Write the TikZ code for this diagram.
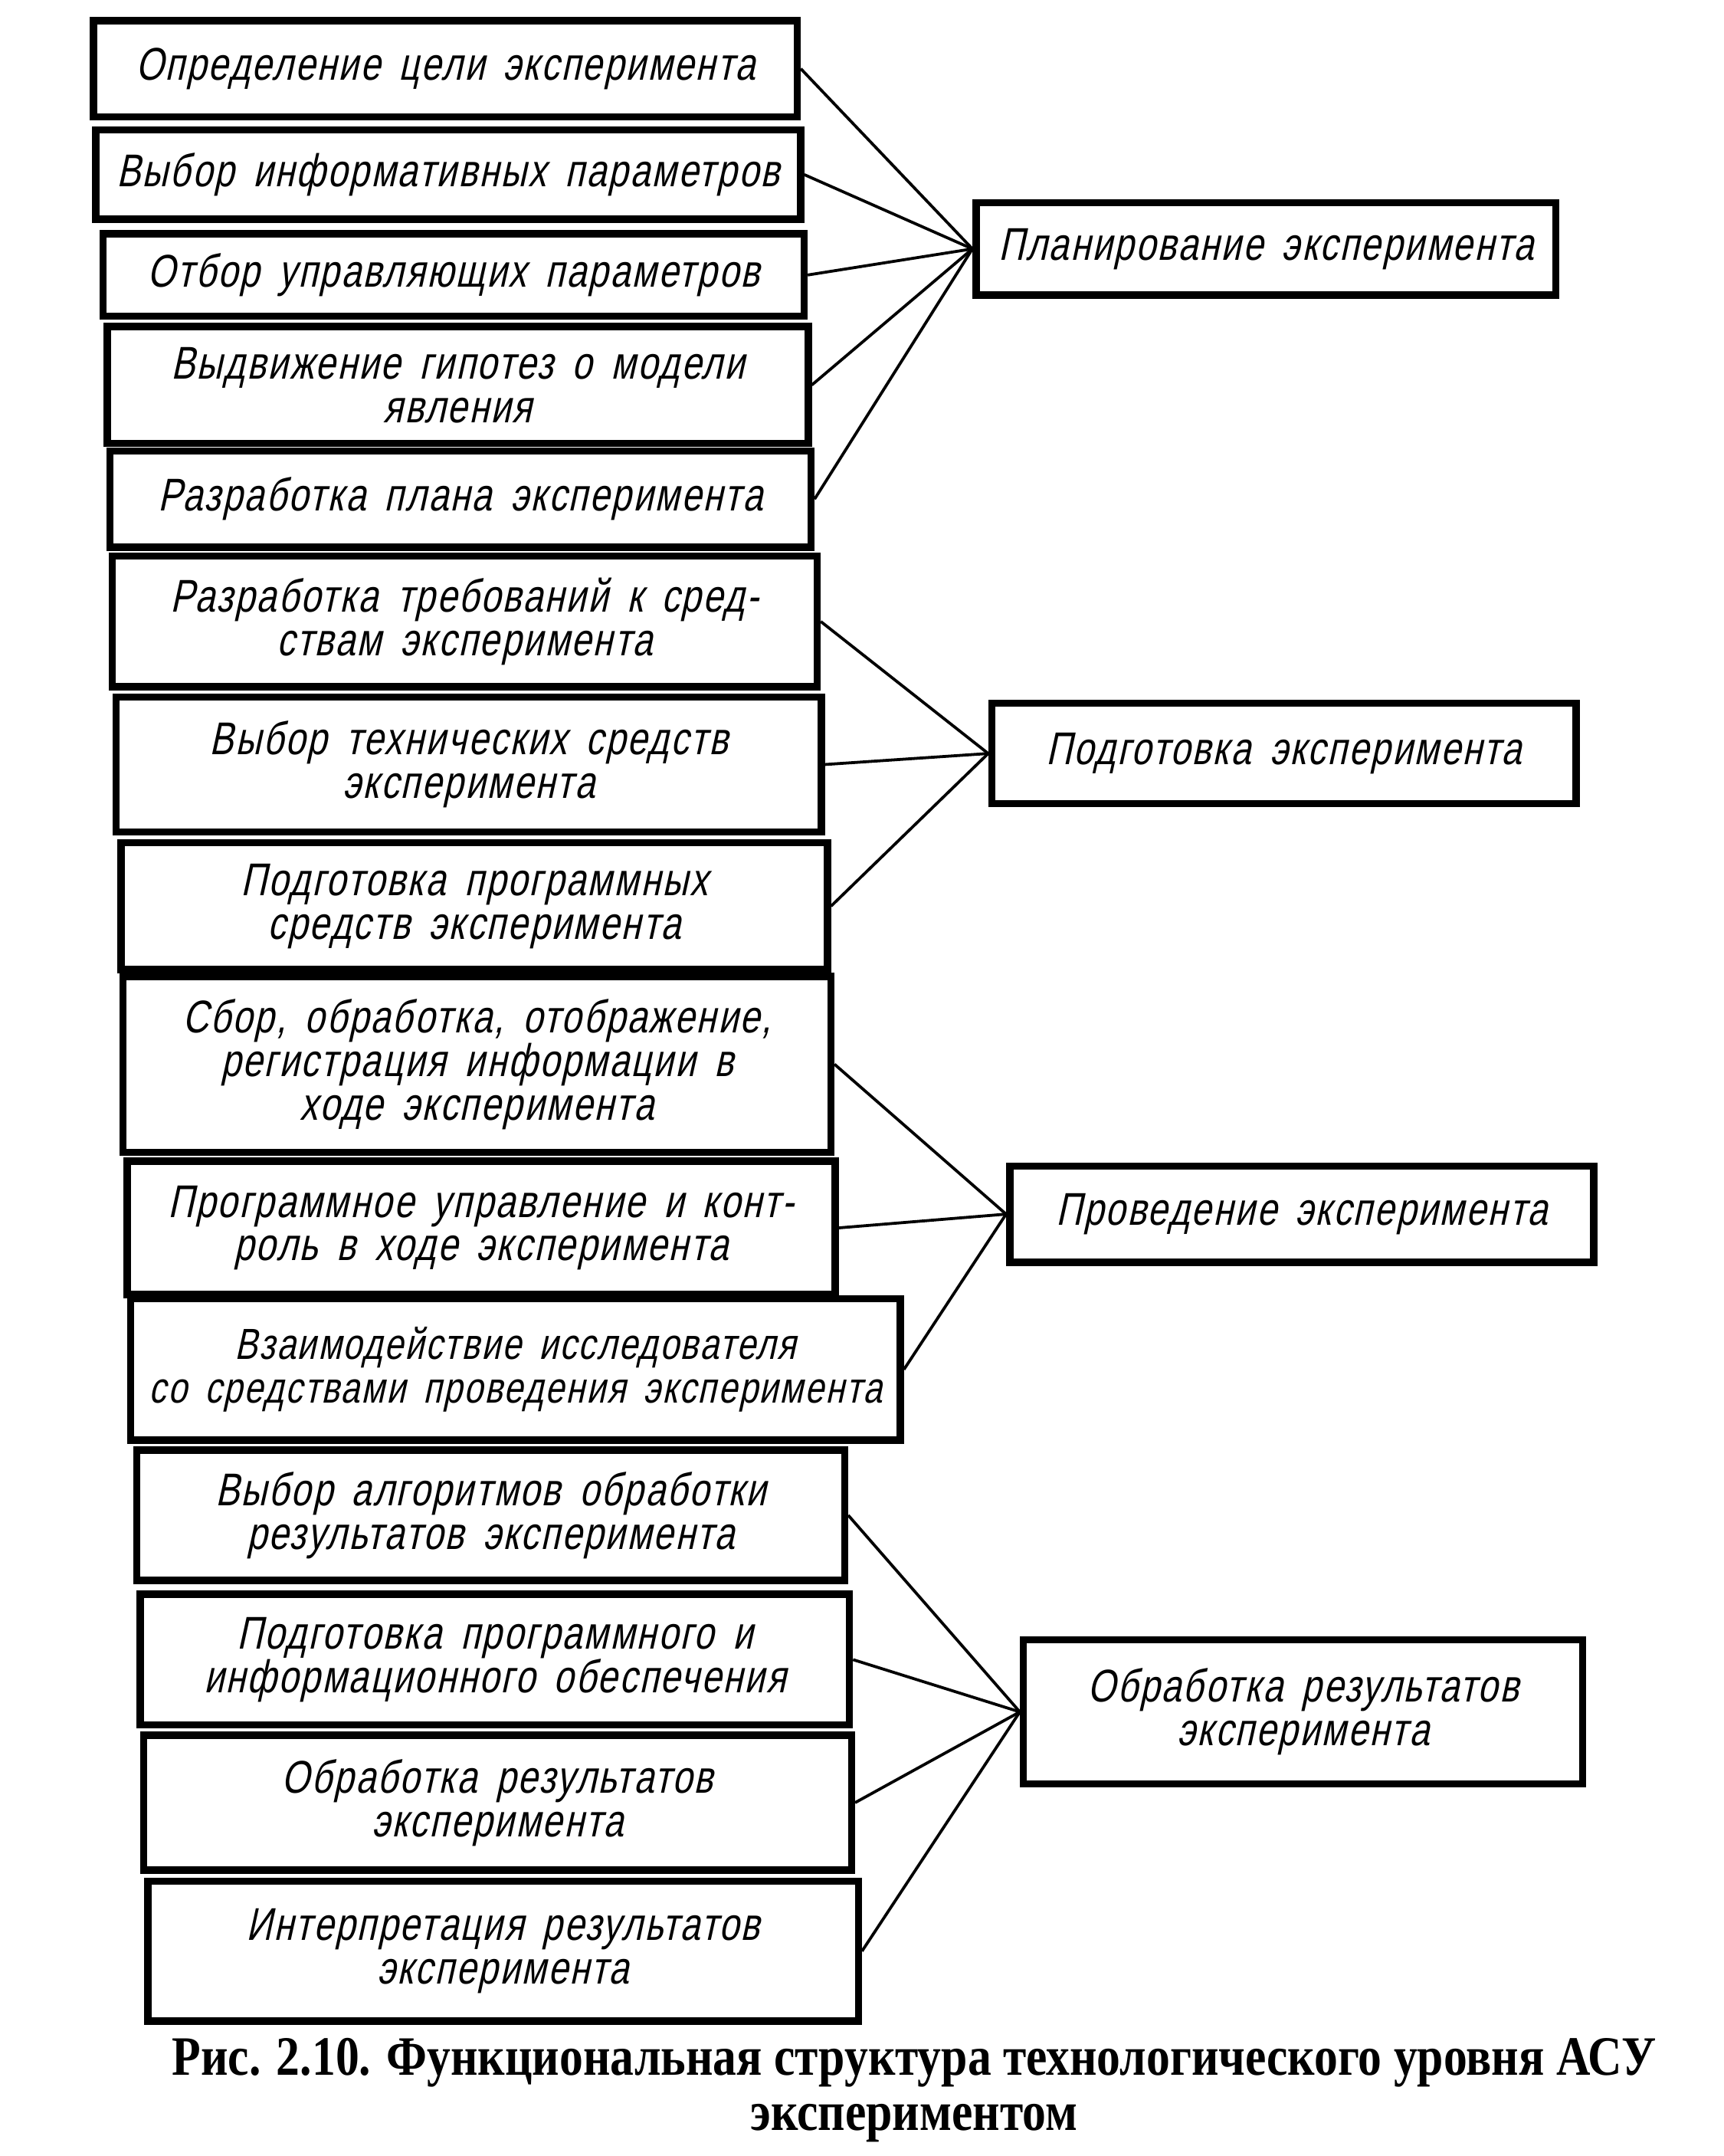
\documentclass[tikz,border=0pt]{standalone}
\usepackage{fontspec}
\newfontfamily\gostfont{Liberation Sans}[FakeSlant=0.22,FakeStretch=0.78,LetterSpace=4,WordSpace=1.6]
\newfontfamily\capfont{Liberation Serif}[FakeStretch=0.85]
\tikzset{
  stage/.style={draw,line width=3pt,inner sep=2pt,align=center,
    font=\fontsize{19}{18}\gostfont},
  link/.style={line width=1.2pt},
}
\begin{document}
\begin{tikzpicture}[x=0.02cm,y=-0.02cm]
   \useasboundingbox (0,0) rectangle (1254,1568);
   % left column: the single steps
   \node[stage,minimum width=10.24cm,minimum height=1.40cm] (p1) at (324,50) {Определение цели эксперимента};
   \node[stage,minimum width=10.26cm,minimum height=1.30cm] (p2) at (326,127) {Выбор информативных параметров};
   \node[stage,minimum width=10.20cm,minimum height=1.20cm] (p3) at (330,200) {Отбор управляющих параметров};
   \node[stage,minimum width=10.20cm,minimum height=1.70cm] (p4) at (333,280) {Выдвижение гипотез о модели\\явления};
   \node[stage,minimum width=10.20cm,minimum height=1.40cm] (p5) at (335,363) {Разработка плана эксперимента};
   \node[stage,minimum width=10.26cm,minimum height=1.90cm] (p6) at (338,452) {Разработка требований к сред-\\ствам эксперимента};
   \node[stage,minimum width=10.26cm,minimum height=1.96cm] (p7) at (341,556) {Выбор технических средств\\эксперимента};
   \node[stage,minimum width=10.28cm,minimum height=1.84cm] (p8) at (345,659) {Подготовка программных\\средств эксперимента};
   \node[stage,minimum width=10.30cm,minimum height=2.56cm] (p9) at (347,774) {Сбор, обработка, отображение,\\регистрация информации в\\ходе эксперимента};
   \node[stage,minimum width=10.30cm,minimum height=1.94cm] (p10) at (350,893) {Программное управление и конт-\\роль в ходе эксперимента};
   \node[stage,minimum width=11.20cm,minimum height=2.06cm,font=\fontsize{18}{18}\gostfont] (p11) at (375,996) {Взаимодействие исследователя\\со средствами проведения эксперимента};
   \node[stage,minimum width=10.30cm,minimum height=1.90cm] (p12) at (357,1102) {Выбор алгоритмов обработки\\результатов эксперимента};
   \node[stage,minimum width=10.32cm,minimum height=1.90cm] (p13) at (360,1207) {Подготовка программного и\\информационного обеспечения};
   \node[stage,minimum width=10.30cm,minimum height=1.96cm] (p14) at (362,1311) {Обработка результатов\\эксперимента};
   \node[stage,minimum width=10.34cm,minimum height=2.04cm] (p15) at (366,1419) {Интерпретация результатов\\эксперимента};
   % right column: the stages
   \node[stage,minimum width=8.44cm,minimum height=1.34cm] (plan) at (921,181) {Планирование эксперимента};
   \node[stage,minimum width=8.50cm,minimum height=1.46cm] (prep) at (934,548) {Подготовка эксперимента};
   \node[stage,minimum width=8.50cm,minimum height=1.40cm] (run) at (947,883) {Проведение эксперимента};
   \node[stage,minimum width=8.14cm,minimum height=2.10cm] (proc) at (948,1245) {Обработка результатов\\эксперимента};
   \foreach \i in {1,...,5} \draw[link] (p\i.east) -- (plan.west);
   \foreach \i in {6,7,8} \draw[link] (p\i.east) -- (prep.west);
   \foreach \i in {9,10,11} \draw[link] (p\i.east) -- (run.west);
   \foreach \i in {12,...,15} \draw[link] (p\i.east) -- (proc.west);
   \node[align=center,font=\fontsize{23}{23}\capfont\bfseries] (cap) at (665,1520)
     {Рис. 2.10. Функциональная структура технологического уровня АСУ\\экспериментом};
\end{tikzpicture}
\end{document}
